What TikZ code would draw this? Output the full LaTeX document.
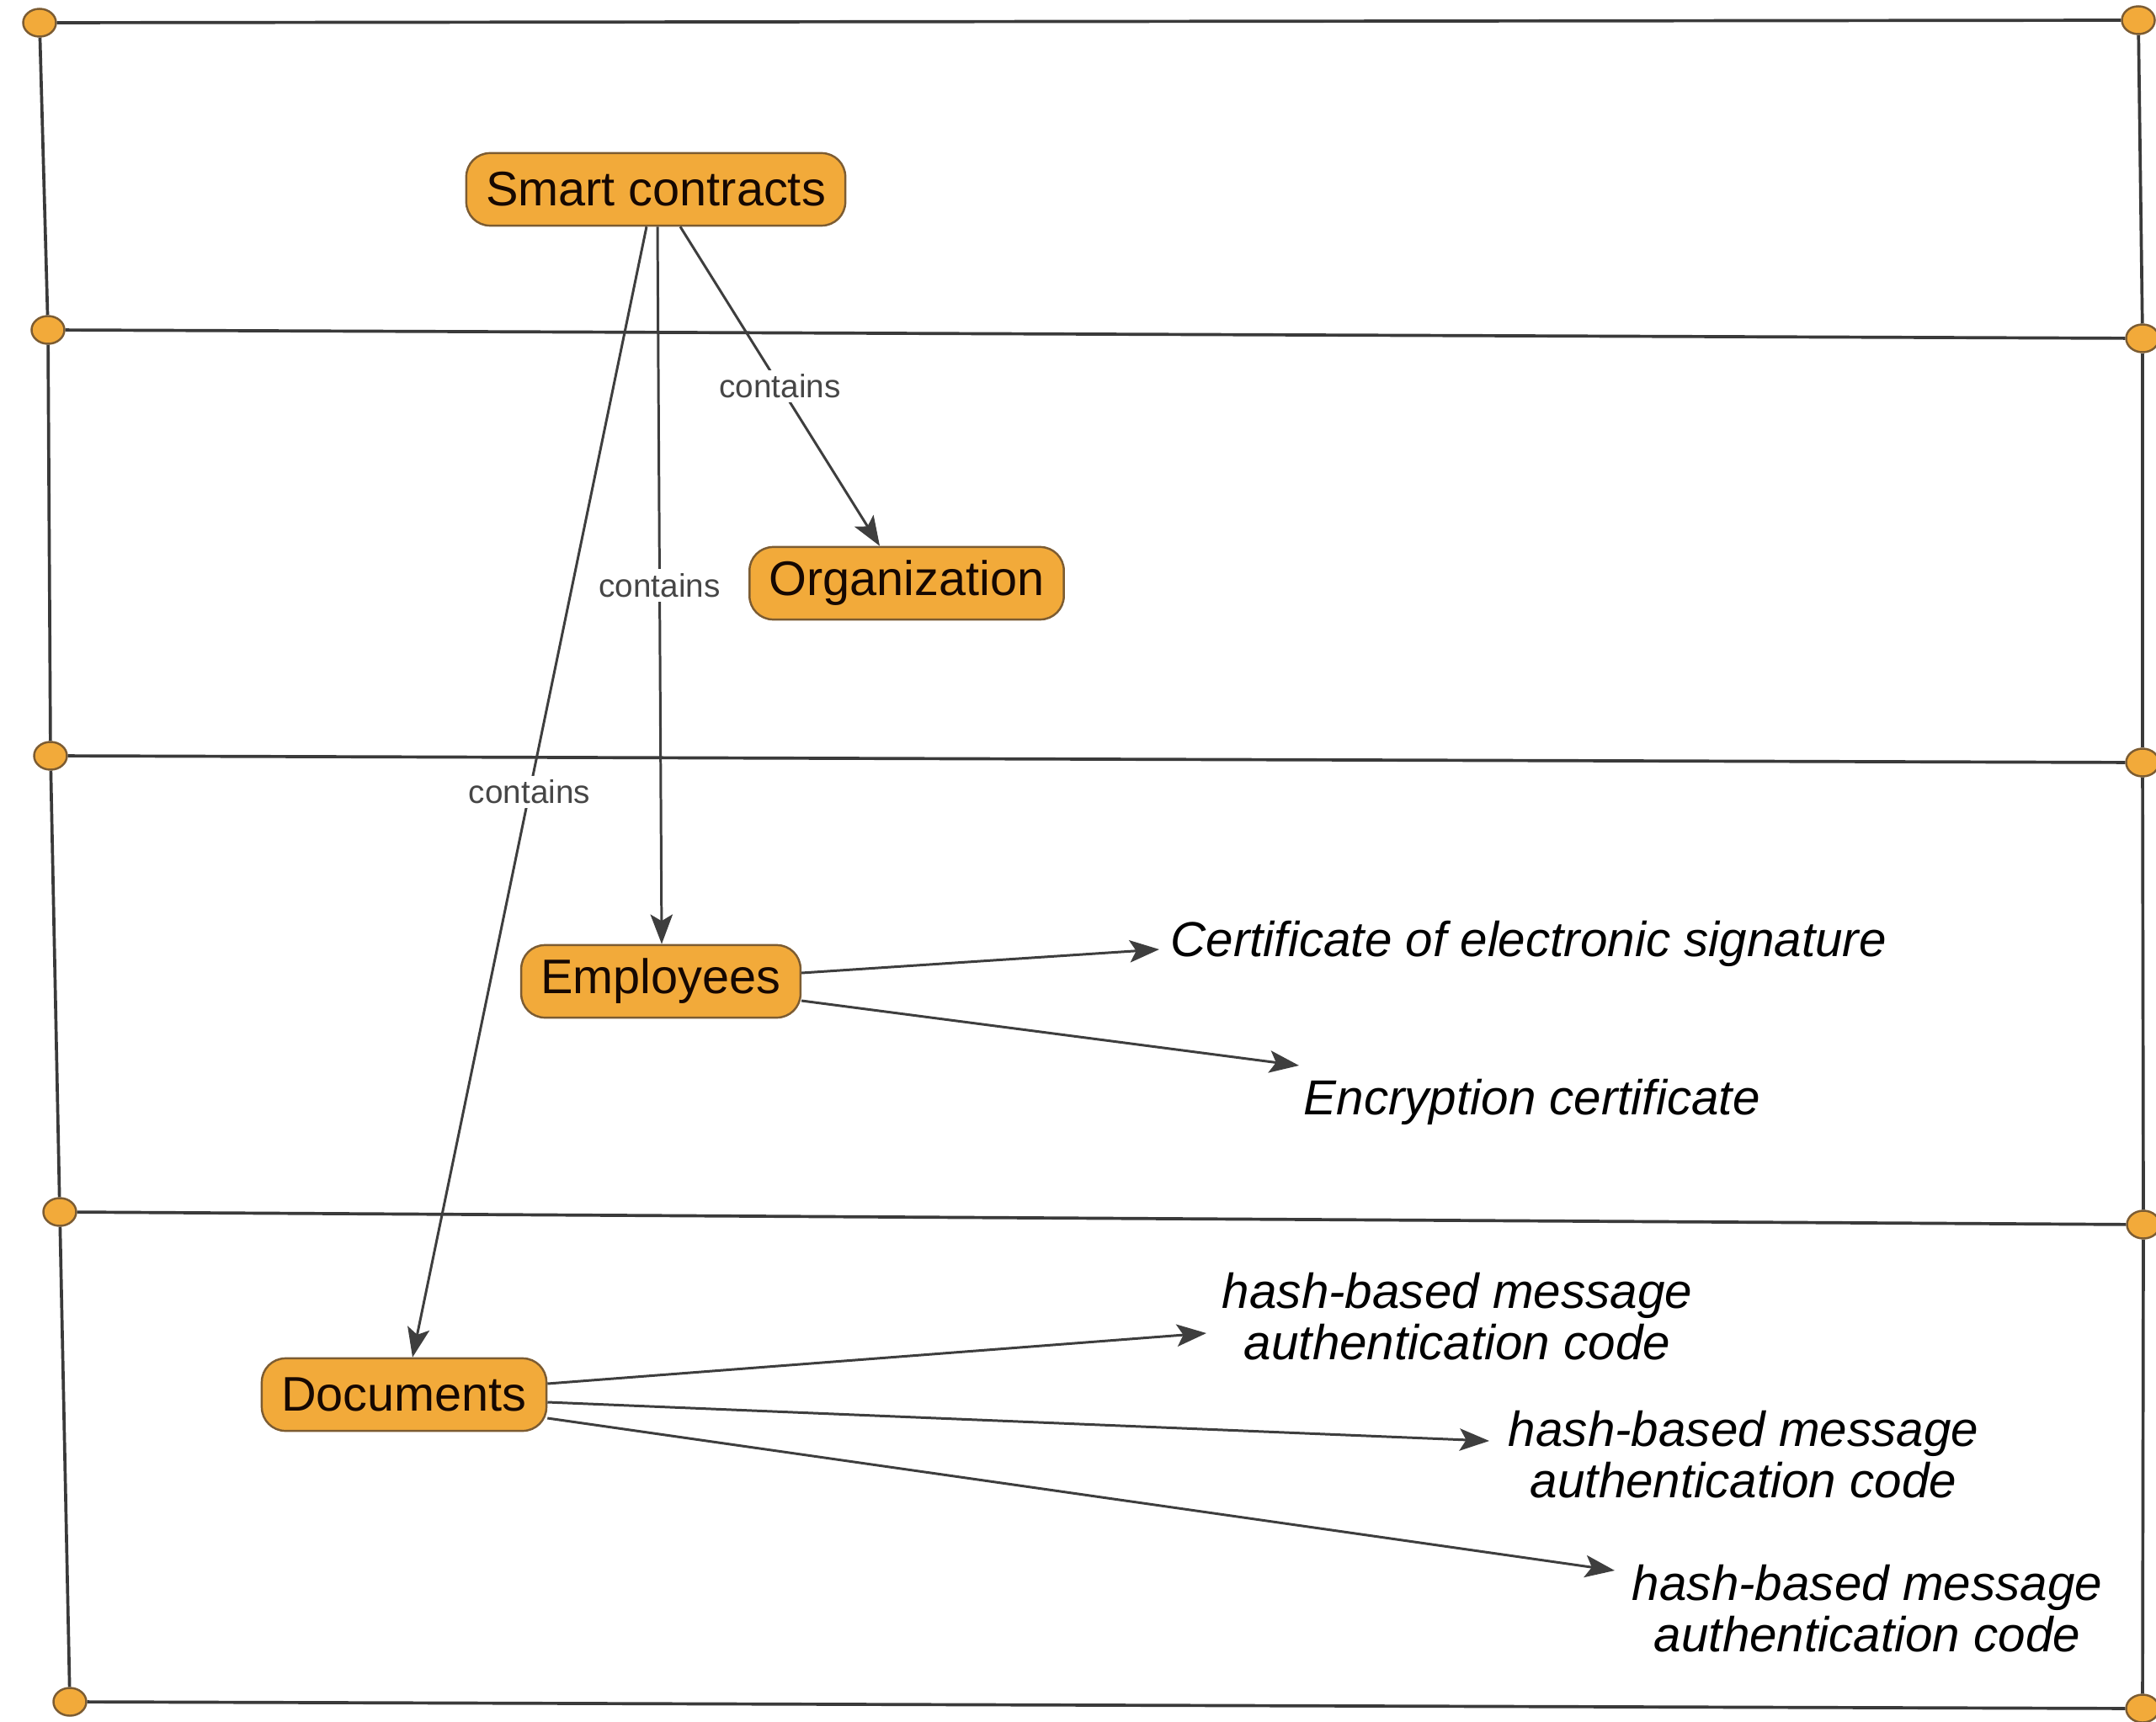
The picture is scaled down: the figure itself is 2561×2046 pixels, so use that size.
\documentclass[tikz,border=0pt]{standalone}
\usepackage{fontspec}
\setmainfont{Liberation Sans}
\usetikzlibrary{shapes.geometric,arrows.meta,calc}

\definecolor{nodefill}{RGB}{242,170,58}
\definecolor{nodeline}{RGB}{124,92,50}
\definecolor{wire}{RGB}{58,58,58}
\definecolor{edgegray}{RGB}{62,62,62}
\definecolor{labelgray}{RGB}{70,70,70}
\definecolor{inktext}{RGB}{22,8,2}

\begin{document}
\begin{tikzpicture}[x=0.01cm, y=-0.01cm,
  concept/.style={draw=nodeline, line width=0.7pt, fill=nodefill,
    rounded corners=8pt, minimum height=24.5pt, inner xsep=6.6pt, inner ysep=0pt,
    font=\fontsize{16.4}{17}\selectfont, text=inktext},
  anchorpt/.style={ellipse, draw=nodeline, line width=0.7pt, fill=nodefill,
    minimum width=0.39cm, minimum height=0.33cm, inner sep=0pt},
  frameline/.style={draw=wire, line width=1.05pt},
  rel/.style={draw=edgegray, line width=0.85pt,
    -{Stealth[length=10pt,width=7.5pt,inset=2.2pt]}},
  leaf/.style={font=\fontsize{16.6}{17.2}\selectfont\itshape, align=center,
    inner sep=0pt, text=black},
  tag/.style={font=\fontsize{11}{12}\selectfont, text=labelgray, fill=white,
    inner sep=1.5pt}
]
\useasboundingbox (0,0) rectangle (2561,2046);

% corner and junction points of the frame
\node[anchorpt] (L1) at (47,27) {};
\node[anchorpt] (L2) at (57,392) {};
\node[anchorpt] (L3) at (60,898) {};
\node[anchorpt] (L4) at (71,1440) {};
\node[anchorpt] (L5) at (83,2022) {};
\node[anchorpt] (R1) at (2540,24) {};
\node[anchorpt] (R2) at (2545,402) {};
\node[anchorpt] (R3) at (2545,906) {};
\node[anchorpt] (R4) at (2546,1455) {};
\node[anchorpt] (R5) at (2545,2030) {};

% horizontal bands and side rails
\foreach \i in {1,...,5} { \draw[frameline] (L\i) -- (R\i); }
\foreach \i/\j in {1/2,2/3,3/4,4/5} {
  \draw[frameline] (L\i) -- (L\j);
  \draw[frameline] (R\i) -- (R\j);
}

% concepts
\node[concept] (sc)  at (779,225)  {Smart contracts};
\node[concept] (org) at (1077,693) {Organization};
\node[concept] (emp) at (785,1166) {Employees};
\node[concept] (doc) at (480,1657) {Documents};

% attributes
\node[leaf, anchor=west] (cert) at (1390,1121) {Certificate of electronic signature};
\node[leaf, anchor=west] (enc)  at (1548,1309) {Encryption certificate};
\node[leaf] (h1) at (1731,1564) {hash-based message\\authentication code};
\node[leaf] (h2) at (2071,1728) {hash-based message\\authentication code};
\node[leaf] (h3) at (2218,1911) {hash-based message\\authentication code};

% containment relations
\draw[rel] ($(sc.south)+(29,0)$) -- ($(org.north)+(-32,0)$)
  node[tag, pos=0.5] {contains};
\draw[rel] ($(sc.south)+(2,0)$) -- ($(emp.north)+(1,0)$)
  node[tag, pos=0.5] {contains};
\draw[rel] ($(sc.south)+(-11,0)$) -- ($(doc.north)+(10,0)$)
  node[tag, pos=0.5] {contains};

% employee certificates
\draw[rel] ($(emp.east)+(0,-10)$) -- ($(cert.west)+(-13,7)$);
\draw[rel] ($(emp.east)+(0,23)$) -- ($(enc.west)+(-5,-43)$);

% document codes
\draw[rel] ($(doc.east)+(0,-13)$) -- ($(h1.center)+(-298,20)$);
\draw[rel] ($(doc.east)+(0,9)$) -- ($(h2.center)+(-302,-16)$);
\draw[rel] ($(doc.east)+(0,28)$) -- ($(h3.center)+(-300,-45)$);
\end{tikzpicture}
\end{document}
